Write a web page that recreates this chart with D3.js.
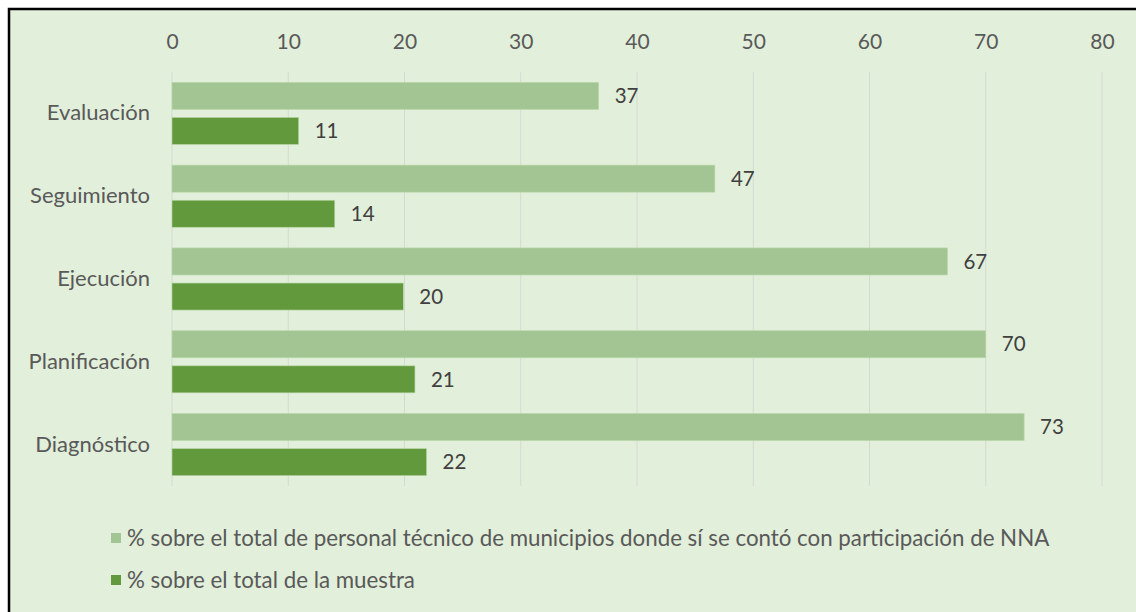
<!DOCTYPE html>
<html><head><meta charset="utf-8">
<script src="https://cdn.jsdelivr.net/npm/d3@7"></script>
<style>body{margin:0;background:#fff;}svg{display:block;}</style>
</head><body>
<svg id="c" width="1136" height="612"></svg>
<script>
const categories = ["Evaluación","Seguimiento","Ejecución","Planificación","Diagnóstico"];
const seriesNames = ["% sobre el total de personal técnico de municipios donde sí se contó con participación de NNA","% sobre el total de la muestra"];
const seriesA = [36.7,46.7,66.7,70.0,73.3];
const seriesB = [10.9,14.0,19.9,20.9,21.9];
const ticks = [0,10,20,30,40,50,60,70,80];
const colors = ["#A3C593","#62993C"];

const svg = d3.select("#c");
const font = "Lato, sans-serif";
const fmt = d3.format(".0f");
svg.append("rect").attr("x",9).attr("y",9).attr("width",1140).attr("height",620)
  .attr("fill","#E2EFDA").attr("stroke","#000").attr("stroke-width",2.5);

const x = d3.scaleLinear().domain([0,80]).range([172,1102]);
const y = d3.scaleBand().domain(categories).range([72,486]).paddingInner(0.25).paddingOuter(0.125);
const sub = d3.scaleBand().domain([0,1]).range([0,y.bandwidth()]).paddingInner(0.23);

// gridlines
svg.append("g").selectAll("line").data(ticks).join("line")
  .attr("x1",d=>x(d)).attr("x2",d=>x(d)).attr("y1",72).attr("y2",486)
  .attr("stroke","#D6D9D3").attr("stroke-width",1);

// top axis
const ax = svg.append("g").attr("transform","translate(0,72)")
  .call(d3.axisTop(x).tickValues(ticks).tickSize(0).tickPadding(23));
ax.select(".domain").remove();
ax.selectAll("text").attr("font-family",font).attr("font-size",21).attr("fill","#595959");

// category axis
const ay = svg.append("g").attr("transform","translate(172,0)")
  .call(d3.axisLeft(y).tickSize(0).tickPadding(22));
ay.select(".domain").remove();
ay.selectAll("text").attr("font-family",font).attr("font-size",22).attr("fill","#595959");

const series = [seriesA, seriesB];
series.forEach((vals,si)=>{
  const g = svg.append("g");
  g.selectAll("rect").data(vals).join("rect")
    .attr("x",x(0)).attr("y",(d,i)=>y(categories[i])+sub(si))
    .attr("width",d=>x(d)-x(0)).attr("height",sub.bandwidth())
    .attr("fill",colors[si]).attr("stroke","#B9D8A8").attr("stroke-width",0.6);
  g.selectAll("text").data(vals).join("text")
    .attr("x",d=>x(d)+16).attr("y",(d,i)=>y(categories[i])+sub(si)+sub.bandwidth()/2)
    .attr("dy","0.35em").attr("font-family",font).attr("font-size",20.5).attr("fill","#404040")
    .text(d=>fmt(d));
});

// legend
const leg = svg.append("g");
seriesNames.forEach((n,i)=>{
  const ly = 538 + i*42;
  leg.append("rect").attr("x",111).attr("y",ly-5).attr("width",10).attr("height",10).attr("fill",colors[i]);
  leg.append("text").attr("x",127).attr("y",ly).attr("dy","0.35em")
    .attr("font-family",font).attr("font-size",22.3).attr("fill","#595959").text(n);
});
</script>
</body></html>
